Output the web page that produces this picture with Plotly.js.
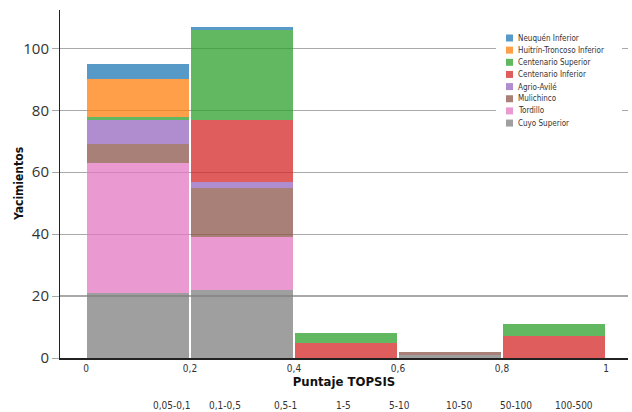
<!DOCTYPE html>
<html>
<head>
<meta charset="utf-8">
<script src="https://cdn.plot.ly/plotly-3.0.1.min.js"></script>
<style>
  html, body { margin: 0; padding: 0; background: #fff; }
  #chart { width: 632px; height: 412px; }
</style>
</head>
<body>
<div id="chart"></div>
<script>
// TOPSIS score bins (centres)
const binCenters = [0.1, 0.3, 0.5, 0.7, 0.9];

// Number of wells per formation in each bin (stack order: bottom -> top)
const cuyoSuperior        = [21, 22, 0, 1, 0];
const tordillo            = [42, 17, 0, 0, 0];
const mulichinco          = [6, 16, 0, 1, 0];
const agrioAvile          = [8, 2, 0, 0, 0];
const centenarioInferior  = [0, 20, 5, 0, 7];
const centenarioSuperior  = [1, 29, 3, 0, 4];
const huitrinTroncoso     = [12, 0, 0, 0, 0];
const neuquenInferior     = [5, 1, 0, 0, 0];

const seriesNames = ['Cuyo Superior', 'Tordillo', 'Mulichinco', 'Agrio-Avilé',
  'Centenario Inferior', 'Centenario Superior', 'Huitrín-Troncoso Inferior', 'Neuquén Inferior'];
const seriesValues = [cuyoSuperior, tordillo, mulichinco, agrioAvile,
  centenarioInferior, centenarioSuperior, huitrinTroncoso, neuquenInferior];
const seriesColors = ['#7f7f7f', '#e377c2', '#8c564b', '#9467bd',
  '#d62728', '#2ca02c', '#ff7f0e', '#1f77b4'];

// X tick values / labels
const xTickVals = [0, 0.2, 0.4, 0.6, 0.8, 1];
const xTickText = ['0', '0,2', '0,4', '0,6', '0,8', '1'];

// Secondary range labels under the axis title
const rangeLabels = ['0,05-0,1', '0,1-0,5', '0,5-1', '1-5', '5-10', '10-50', '50-100', '100-500'];
const rangePos = [0.165, 0.267, 0.383, 0.496, 0.602, 0.717, 0.827, 0.938];

const narrow = "'Liberation Sans Narrow', 'DejaVu Sans Condensed', 'Arial Narrow', sans-serif";
const OPA = 0.75;

const traces = seriesNames.map((name, i) => ({
  type: 'bar',
  name: name,
  x: binCenters,
  y: seriesValues[i],
  width: 0.195,
  marker: { color: seriesColors[i], opacity: OPA, line: { width: 0 } },
  hoverinfo: 'none',
  showlegend: false
}));

// Plot area in pixels (for positioning the compact legend)
const W = 632, H = 412, M = { l: 60, r: 4, t: 10, b: 54 };
const pw = W - M.l - M.r, ph = H - M.t - M.b;
const px2x = p => (p - M.l) / pw;
const py2y = p => (H - M.b - p) / ph;

const annotations = rangeLabels.map((t, i) => ({
  text: t,
  x: rangePos[i],
  xref: 'x',
  y: -0.137,
  yref: 'paper',
  yanchor: 'middle',
  xanchor: 'center',
  showarrow: false,
  font: { family: narrow, size: 10, color: '#333' }
}));

// Y axis title
annotations.push({
  text: 'Yacimientos', xref: 'paper', yref: 'paper',
  x: px2x(19), y: 0.5, xanchor: 'center', yanchor: 'middle',
  textangle: -90, showarrow: false,
  font: { family: narrow, size: 12, color: '#111', weight: 'bold' }
});

// Compact legend (top entry = last stacked series)
const shapes = [{
  type: 'rect', xref: 'paper', yref: 'paper', layer: 'above',
  x0: px2x(496), x1: px2x(622), y0: py2y(130), y1: py2y(29),
  fillcolor: '#fff', line: { width: 0 }
}];
const legendOrder = seriesNames.map((_, i) => i).reverse();
legendOrder.forEach((si, row) => {
  const cy = 38 + 12.15 * row;
  shapes.push({
    type: 'rect', xref: 'paper', yref: 'paper', layer: 'above',
    x0: px2x(506), x1: px2x(513), y0: py2y(cy + 3.5), y1: py2y(cy - 3.5),
    fillcolor: seriesColors[si], opacity: OPA, line: { width: 0 }
  });
  annotations.push({
    text: seriesNames[si], xref: 'paper', yref: 'paper',
    x: px2x(516), y: py2y(cy), xanchor: 'left', yanchor: 'middle',
    showarrow: false, font: { family: narrow, size: 8, color: '#333' }
  });
});

const layout = {
  width: W,
  height: H,
  margin: { l: M.l, r: M.r, t: M.t, b: M.b, autoexpand: false },
  paper_bgcolor: '#fff',
  plot_bgcolor: '#fff',
  barmode: 'stack',
  separators: ', ',
  showlegend: false,
  xaxis: {
    range: [-0.05, 1.0423],
    tickvals: xTickVals,
    ticktext: xTickText,
    showgrid: false,
    zeroline: false,
    showline: true,
    linecolor: '#222',
    linewidth: 1.5,
    ticks: '',
    tickfont: { family: narrow, size: 10, color: '#333' },
    title: { text: 'Puntaje TOPSIS', standoff: 4,
      font: { family: narrow, size: 13, color: '#111', weight: 'bold' } }
  },
  yaxis: {
    range: [0, 112.4],
    tickvals: [0, 20, 40, 60, 80, 100],
    showgrid: true,
    gridcolor: '#a9a9a9',
    gridwidth: 1.2,
    zeroline: false,
    showline: true,
    linecolor: '#222',
    linewidth: 1,
    ticks: 'outside',
    ticklen: 7,
    tickcolor: '#a9a9a9',
    tickfont: { family: "'Open Sans', sans-serif", size: 15, color: '#333' }
  },
  shapes: shapes,
  annotations: annotations
};

Plotly.newPlot('chart', traces, layout, { displayModeBar: false, staticPlot: true });
</script>
</body>
</html>
